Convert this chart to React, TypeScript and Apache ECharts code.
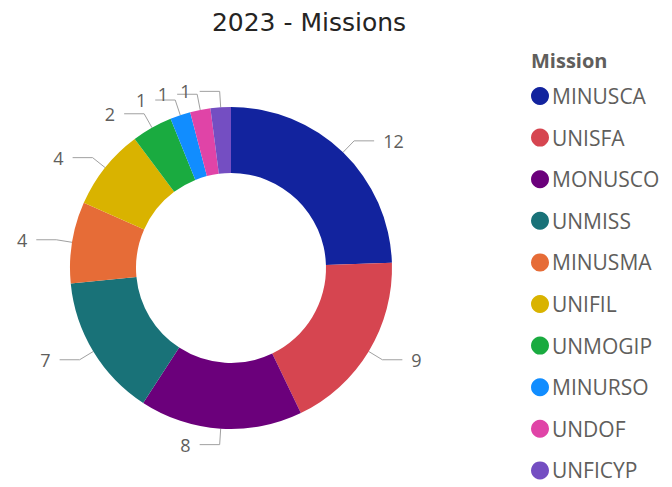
import React, { useEffect, useRef } from "react";
import * as echarts from "echarts";

const missions = ["MINUSCA", "UNISFA", "MONUSCO", "UNMISS", "MINUSMA", "UNIFIL", "UNMOGIP", "MINURSO", "UNDOF", "UNFICYP"];
const counts = [12, 9, 8, 7, 4, 4, 2, 1, 1, 1];
const colors = ["#12239E", "#D64550", "#6B007B", "#197278", "#E66C37", "#D9B300", "#1AAB40", "#118DFF", "#E044A7", "#744EC2"];

export default function App() {
  const ref = useRef<HTMLDivElement>(null);
  useEffect(() => {
    const chart = echarts.init(ref.current!, null, { renderer: "svg" });
    chart.setOption({
      animation: false,
      backgroundColor: "#ffffff",
      color: colors,
      title: {
        text: "2023 - Missions",
        left: 304,
        top: 5,
        textAlign: "center",
        textStyle: { fontFamily: "DejaVu Sans", fontSize: 25, fontWeight: "normal", color: "#252423" },
      },
      graphic: [
        {
          type: "text",
          left: 531,
          top: 50,
          style: { text: "Mission", fontFamily: "Open Sans", fontSize: 20, fontWeight: "bold", fill: "#605E5C" },
        },
      ],
      legend: {
        orient: "vertical",
        left: 531,
        top: 85,
        padding: 0,
        icon: "circle",
        itemWidth: 18,
        itemHeight: 18,
        itemGap: 19.6,
        textStyle: { fontFamily: "Open Sans", fontSize: 21, lineHeight: 22, color: "#605E5C", padding: [0, 0, 0, -2] },
        data: missions,
      },
      series: [
        {
          type: "pie",
          center: [231, 268],
          radius: [95, 161],
          startAngle: 90,
          clockwise: true,
          avoidLabelOverlap: false,
          data: missions.map((m, i) => ({ name: m, value: counts[i] })),
          label: {
            show: true,
            formatter: "{c}",
            fontFamily: "Open Sans",
            fontSize: 18,
            color: "#605E5C",
            padding: [0, 4],
          },
          labelLine: { show: true, length: 16, length2: 20, lineStyle: { color: "#A0A0A0", width: 1 } },
          itemStyle: { borderColor: "#ffffff", borderWidth: 0 },
        },
      ],
    });
    return () => chart.dispose();
  }, []);
  return <div ref={ref} style={{ position: "fixed", left: 0, top: 0, width: 672, height: 487 }} />;
}
